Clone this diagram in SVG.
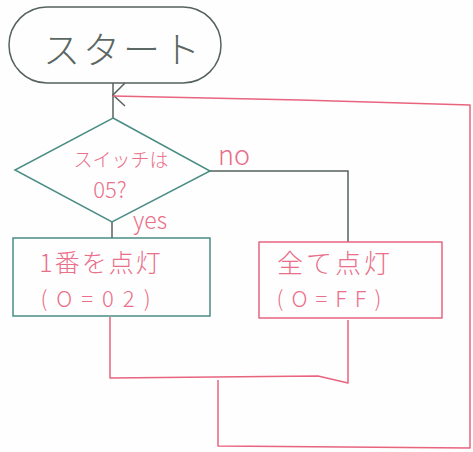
<svg xmlns="http://www.w3.org/2000/svg" width="473" height="452" viewBox="0 0 473 452">
<style>
.bg{fill:#fefefe}
.teal{fill:none;stroke:#4a8d84;stroke-width:1.5}
.dark{fill:none;stroke:#56625e;stroke-width:1.5}
.red{fill:none;stroke:#e8647f;stroke-width:1.5;stroke-linejoin:round}
.tj{font-family:"Noto Sans CJK JP","Noto Sans",sans-serif;font-weight:300}
.pink{fill:#ea6f8a}
.gray{fill:#5b6763}
</style>
<rect class="bg" x="0" y="0" width="473" height="452"/>
<g id="connectors">
  <path class="dark" d="M113,83 V118"/>
  <path class="dark" d="M125,83 L113,95 L125,106"/>
  <path class="red" d="M113,96 L300,100 L470,105 V448 L218,446 V380"/>
  <path class="dark" d="M112,222 V238"/>
  <path class="dark" d="M210,171 H348 V242"/>
  <path class="red" d="M110,317 V378 L318,376 L348,383 V320"/>
  <text class="tj pink" x="218" y="165" font-size="27">no</text>
  <text class="tj pink" x="133" y="229" font-size="23">yes</text>
</g>
<g id="start">
  <rect class="dark" x="9" y="7" width="212" height="76" rx="38"/>
  <text class="tj gray" x="123" y="64" font-size="37" text-anchor="middle" letter-spacing="3">スタート</text>
</g>
<g id="decision">
  <polygon class="teal" points="113,118 210,171 112,222 15,170"/>
  <text class="tj pink" x="121" y="167" font-size="19" text-anchor="middle">スイッチは</text>
  <text class="tj pink" x="110" y="198" font-size="22" text-anchor="middle">05?</text>
</g>
<g id="light1">
  <rect class="teal" x="13" y="238" width="197" height="78"/>
  <text class="tj pink" x="101" y="272" font-size="25" text-anchor="middle" letter-spacing="2">1番を点灯</text>
  <text class="tj pink" x="100" y="307" font-size="22" text-anchor="middle" letter-spacing="9">(O=02)</text>
</g>
<g id="lightAll">
  <rect class="red" x="259" y="242" width="183" height="76"/>
  <text class="tj pink" x="335" y="273" font-size="26" text-anchor="middle" letter-spacing="3">全て点灯</text>
  <text class="tj pink" x="333" y="307" font-size="22" text-anchor="middle" letter-spacing="8">(O=FF)</text>
</g>
</svg>
